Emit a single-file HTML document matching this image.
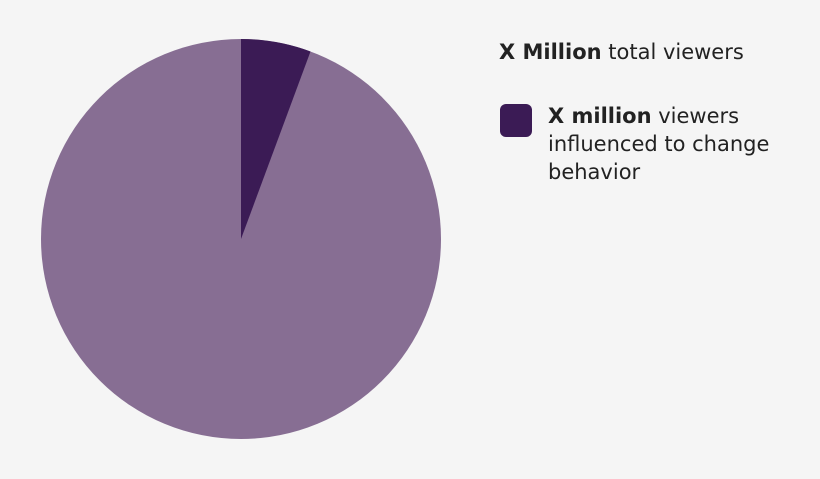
<!DOCTYPE html>
<html><head><meta charset="utf-8"><style>
body{margin:0;background:#f5f5f5;width:820px;height:479px;overflow:hidden;font-family:"DejaVu Sans",sans-serif;color:#222}
.t{position:absolute;font-size:21px;line-height:28px;white-space:nowrap}
</style></head><body>
<svg width="820" height="479" style="position:absolute;left:0;top:0">
<circle cx="241" cy="239" r="200" fill="#876e93"/>
<path d="M241,239 L241,39 A200,200 0 0 1 310.5,51.5 Z" fill="#3b1b55"/>
<rect x="500" y="104" width="32" height="33" rx="6" fill="#3b1b55"/>
</svg>
<div class="t" style="left:499px;top:38px"><b>X Million</b> total viewers</div>
<div class="t" style="left:548px;top:102px"><b>X million</b> viewers<br>influenced to change<br>behavior</div>
</body></html>
